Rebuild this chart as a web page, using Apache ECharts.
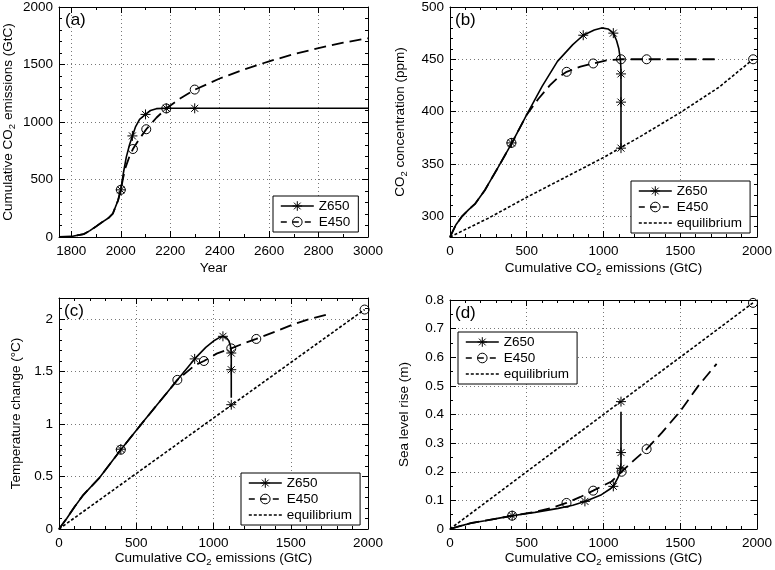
<!DOCTYPE html>
<html><head><meta charset="utf-8">
<script src="https://cdn.jsdelivr.net/npm/echarts@6/dist/echarts.min.js"></script>
<style>html,body{margin:0;padding:0;background:#fff}#c{width:775px;height:570px}</style>
</head><body><div id="c"></div>
<script>
// ---------- DATA ----------
// (a) cumulative emissions vs year
const aZ650 = [[1750,0],[1800,5],[1850,25],[1875,55],[1900,92],[1925,130],[1950,165],[1968,204],[1989,319],[2000,410],[2010,550],[2022,692],[2035,800],[2047,879],[2060,960],[2076,1023],[2100,1066],[2120,1100],[2144,1116],[2184,1119],[2300,1119],[3000,1119]];
const aE450 = [[1750,0],[1800,5],[1850,25],[1875,55],[1900,92],[1925,130],[1950,165],[1968,204],[1989,319],[2000,410],[2010,520],[2020,610],[2035,700],[2049,765],[2076,855],[2103,937],[2144,1037],[2184,1118],[2240,1205],[2300,1282],[2400,1378],[2500,1458],[2600,1528],[2700,1590],[2800,1643],[2900,1690],[3000,1728]];
const aZ650Marks = [[2000,410],[2047,879],[2100,1066],[2184,1119],[2299,1119]];
const aE450Marks = [[2000,410],[2049,765],[2103,937],[2184,1118],[2299,1282]];

// (b) CO2 concentration vs cumulative emissions
const bZ650 = [[0,280],[40,292],[80,300],[120,306],[165,312],[228,325],[315,347],[400,369],[500,397],[600,424],[700,448],[800,464],[868,473],[940,478],[988,480],[1030,479],[1064,475],[1085,468],[1100,460],[1110,450],[1114,440],[1114,366]];
const bE450 = [[0,280],[40,292],[80,300],[120,306],[165,312],[228,325],[315,347],[400,369],[500,397],[575,412],[650,425],[700,432],[760,438],[850,443],[933,446],[1020,449],[1114,450],[1281,450],[1500,450],[1746,450]];
const bEquil = [[0,280],[250,298],[500,318],[750,337],[1000,356],[1250,377],[1500,399],[1750,423],[1975,450]];
const bZ650Marks = [[400,370],[868,473],[1064,475],[1114,436],[1114,409],[1114,365]];
const bE450Marks = [[400,370],[760,438],[933,446],[1114,450],[1281,450],[1975,450]];

// (c) temperature change vs cumulative emissions
const cZ650 = [[0,0],[50,0.1],[100,0.21],[155,0.32],[263,0.49],[400,0.755],[550,1.03],[700,1.3],[766,1.42],[878,1.62],[950,1.73],[1000,1.79],[1040,1.825],[1061,1.835],[1085,1.82],[1100,1.79],[1110,1.74],[1115,1.68],[1115,1.25]];
const cE450 = [[0,0],[50,0.1],[100,0.21],[155,0.32],[263,0.49],[400,0.755],[550,1.03],[700,1.3],[766,1.42],[880,1.56],[938,1.6],[1020,1.67],[1115,1.72],[1200,1.77],[1277,1.81],[1400,1.88],[1500,1.94],[1600,1.99],[1730,2.04]];
const cEquil = [[0,0],[1978,2.09]];
const cZ650Marks = [[400,0.76],[878,1.62],[1061,1.835],[1115,1.676],[1115,1.517],[1115,1.184]];
const cE450Marks = [[400,0.755],[766,1.42],[938,1.6],[1115,1.72],[1277,1.81],[1978,2.09]];

// (d) sea level rise vs cumulative emissions
const dZ650 = [[0,0],[70,0.011],[141,0.021],[228,0.029],[320,0.038],[405,0.046],[553,0.058],[705,0.072],[800,0.083],[879,0.096],[987,0.12],[1040,0.139],[1064,0.149],[1095,0.18],[1110,0.205],[1114,0.23],[1114,0.41]];
const dE450 = [[0,0],[70,0.011],[141,0.021],[228,0.029],[320,0.038],[405,0.046],[553,0.06],[650,0.072],[759,0.091],[850,0.112],[933,0.134],[1052,0.166],[1118,0.2],[1194,0.238],[1281,0.279],[1379,0.336],[1498,0.41],[1618,0.5],[1737,0.577]];
const dEquil = [[0,0],[1974,0.79]];
const dZ650Marks = [[405,0.0465],[879,0.0965],[1064,0.149],[1114,0.212],[1114,0.267],[1114,0.445]];
const dE450Marks = [[405,0.0465],[759,0.091],[933,0.134],[1118,0.2],[1281,0.279],[1974,0.79]];

const panelLabels = ['(a)','(b)','(c)','(d)'];
const legendNames2 = ['Z650','E450'];
const legendNames3 = ['Z650','E450','equilibrium'];

// ---------- CHART ----------
const FONT = 'Liberation Sans, Arial, sans-serif';
const STAR = 'path://M5,0L5,10M0,5L10,5M1.5,1.5L8.5,8.5M1.5,8.5L8.5,1.5';
const CLEAR = 'rgba(0,0,0,0)';
const chart = echarts.init(document.getElementById('c'), null, {renderer:'canvas'});

const grids = [
  {left:59, top:5, width:309, height:232},
  {left:450, top:6, width:307, height:231},
  {left:59, top:298, width:309, height:231},
  {left:450, top:300, width:307, height:229}
];

const rich = {
  t:{fontSize:13.5, fontFamily:FONT, color:'#000'},
  s:{fontSize:9.5, fontFamily:FONT, color:'#000', padding:[7,0,0,0]}
};
const emName = '{t|Cumulative CO}{s|2}{t| emissions (GtC)}';

const xCfg = [
  {min:1750, max:3000, splitNumber:6, minor:2, showMinLabel:false, name:'{t|Year}', gap:24},
  {min:0, max:2000, interval:500, minor:5, name:emName, gap:23},
  {min:0, max:2000, interval:500, minor:5, name:emName, gap:21},
  {min:0, max:2000, interval:500, minor:5, name:emName, gap:21}
];
const yCfg = [
  {min:0, max:2000, interval:500, minor:5, name:emName, gap:42},
  {min:280, max:500, splitNumber:4, minor:5, showMinLabel:false, name:'{t|CO}{s|2}{t| concentration (ppm)}', gap:41},
  {min:0, max:2.2, interval:0.5, minor:5, showMaxLabel:false, name:'{t|Temperature change (°C)}', gap:36},
  {min:0, max:0.8, interval:0.1, minor:2, name:'{t|Sea level rise (m)}', gap:39}
];

function fmt(v) { return String(parseFloat(Number(v).toFixed(3))); }

function axis(kind, gi, c, mirror) {
  const o = {
    type:'value', gridIndex:gi, min:c.min, max:c.max,
    position: kind==='x' ? (mirror?'top':'bottom') : (mirror?'right':'left'),
    axisLine:{show:true, onZero:false, lineStyle:{color:'#000', width:1}},
    axisTick:{show:true, inside:true, length:6, lineStyle:{color:'#000', width:1}},
    minorTick:{show:true, splitNumber:c.minor, length:3, lineStyle:{color:'#000', width:1}},
    axisLabel:{show:!mirror, color:'#000', fontSize:13.5, fontFamily:FONT, margin: kind==='x'?7:6,
      formatter:fmt,
      showMinLabel: c.showMinLabel===false?false:true, showMaxLabel: c.showMaxLabel===false?false:true},
    splitLine:{show:!mirror, lineStyle:{color:'#777', type:[1,3], width:1}},
    minorSplitLine:{show:false}
  };
  if (c.interval !== undefined) o.interval = c.interval;
  if (c.splitNumber !== undefined) o.splitNumber = c.splitNumber;
  if (!mirror) {
    o.name = c.name; o.nameLocation = 'middle'; o.nameGap = c.gap;
    o.nameTextStyle = {color:'#000', fontFamily:FONT, fontSize:13.5, rich:rich};
  }
  return o;
}

const xAxis = [], yAxis = [];
for (let m = 0; m < 2; m++) for (let i = 0; i < 4; i++) {
  xAxis.push(axis('x', i, xCfg[i], m===1));
  yAxis.push(axis('y', i, yCfg[i], m===1));
}

function lineS(name, data, gi, type, width, symbol) {
  return {
    type:'line', name:name, xAxisIndex:gi, yAxisIndex:gi, data:data,
    symbol:symbol, symbolSize:10, showSymbol:false, smooth:false,
    lineStyle:{color:'#000', width:width, type:type},
    itemStyle: symbol==='none' ? {color:CLEAR, borderColor:CLEAR, borderWidth:0}
                               : {color:CLEAR, borderColor:'#000', borderWidth:1},
    silent:true, animation:false, z:2
  };
}
function markS(name, data, gi, symbol, size) {
  return {
    type:'scatter', name:name, xAxisIndex:gi, yAxisIndex:gi, data:data,
    symbol:symbol, symbolSize:size,
    itemStyle:{color:CLEAR, borderColor:'#000', borderWidth:1, opacity:1},
    silent:true, animation:false, z:4
  };
}

const panels = [
  {z:aZ650, e:aE450, eq:null, zm:aZ650Marks, em:aE450Marks},
  {z:bZ650, e:bE450, eq:bEquil, zm:bZ650Marks, em:bE450Marks},
  {z:cZ650, e:cE450, eq:cEquil, zm:cZ650Marks, em:cE450Marks},
  {z:dZ650, e:dE450, eq:dEquil, zm:dZ650Marks, em:dE450Marks}
];
const series = [];
panels.forEach((p, i) => {
  series.push(lineS('Z650', p.z, i, 'solid', 1.6, STAR));
  series.push(lineS('E450', p.e, i, [12,6], 1.8, 'circle'));
  if (p.eq) series.push(lineS('equilibrium', p.eq, i, [3,2], 1.6, 'none'));
});
panels.forEach((p, i) => {
  series.push(markS('Z650 pts', p.zm, i, STAR, 10));
  series.push(markS('E450 pts', p.em, i, 'circle', 9));
});

function legend(left, top, names) {
  return {
    left:left, top:top, orient:'vertical', align:'left',
    backgroundColor:'#fff', borderColor:'#000', borderWidth:1, borderRadius:0,
    padding:[3,8,3,7], itemGap:2, itemWidth:33, itemHeight:12,
    textStyle:{color:'#000', fontSize:13.5, fontFamily:FONT},
    itemStyle:{borderWidth:1},
    lineStyle:{width:1.6},
    selectedMode:false,
    data: names.map(n => n==='E450' ? {name:n, lineStyle:{type:[6,6]}} : {name:n})
  };
}

const option = {
  backgroundColor:'#fff',
  animation:false,
  textStyle:{fontFamily:FONT},
  grid: grids.map(g => Object.assign({containLabel:false}, g)),
  xAxis:xAxis, yAxis:yAxis, series:series,
  legend:[
    legend(273, 196, legendNames2),
    legend(631, 181, legendNames3),
    legend(241, 473, legendNames3),
    legend(458, 332, legendNames3)
  ],
  title:[
    {text:panelLabels[0], left:65, top:12},
    {text:panelLabels[1], left:455, top:12},
    {text:panelLabels[2], left:64, top:303},
    {text:panelLabels[3], left:455, top:305}
  ].map(t => Object.assign(t, {padding:0, textStyle:{fontSize:17, fontWeight:'normal', fontFamily:FONT, color:'#000'}}))
};
chart.setOption(option);
</script>
</body></html>
